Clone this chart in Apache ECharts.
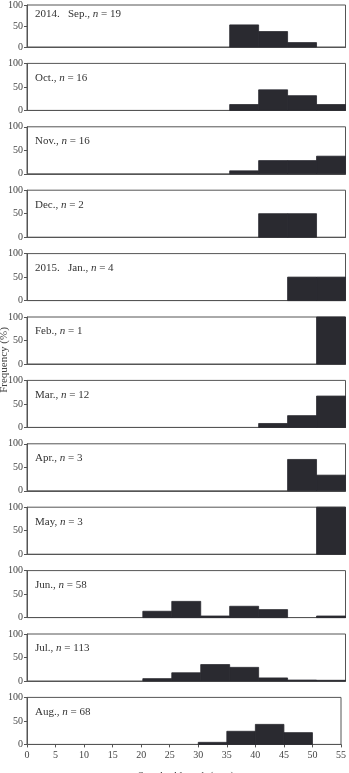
<!DOCTYPE html>
<html>
<head>
<meta charset="utf-8">
<script src="https://cdn.jsdelivr.net/npm/echarts@6/dist/echarts.min.js"></script>
<style>
  html, body { margin: 0; padding: 0; background: #fff; }
  #chart { width: 349px; height: 773px; }
</style>
</head>
<body>
<div id="chart"></div>
<script>
// length bins (mm), lower edges
const binStarts = [0, 5, 10, 15, 20, 25, 30, 35, 40, 45, 50];
const binWidth = 5;
const xTicks = [0, 5, 10, 15, 20, 25, 30, 35, 40, 45, 50, 55];
const yTicks = [0, 50, 100];

// frequency (%) per bin for each month
const sep14 = [0, 0, 0, 0, 0, 0, 0, 52.6, 36.8, 10.5, 0];
const oct14 = [0, 0, 0, 0, 0, 0, 0, 12.5, 43.8, 31.3, 12.5];
const nov14 = [0, 0, 0, 0, 0, 0, 0, 6.3, 28.1, 28.1, 37.5];
const dec14 = [0, 0, 0, 0, 0, 0, 0, 0, 50, 50, 0];
const jan15 = [0, 0, 0, 0, 0, 0, 0, 0, 0, 50, 50];
const feb15 = [0, 0, 0, 0, 0, 0, 0, 0, 0, 0, 100];
const mar15 = [0, 0, 0, 0, 0, 0, 0, 0, 8.3, 25, 66.7];
const apr15 = [0, 0, 0, 0, 0, 0, 0, 0, 0, 66.7, 33.3];
const may15 = [0, 0, 0, 0, 0, 0, 0, 0, 0, 0, 100];
const jun15 = [0, 0, 0, 0, 13.5, 34.5, 3.4, 24.1, 17, 0, 3.4];
const jul15 = [0, 0, 0, 0, 5, 17.5, 35, 29, 6.5, 2, 1.5];
const aug15 = [0, 0, 0, 0, 0, 0, 4.4, 27.9, 42.6, 25, 0];

const panelLabels = [
  '2014.   Sep., {i|n} = 19',
  'Oct., {i|n} = 16',
  'Nov., {i|n} = 16',
  'Dec., {i|n} = 2',
  '2015.   Jan., {i|n} = 4',
  'Feb., {i|n} = 1',
  'Mar., {i|n} = 12',
  'Apr., {i|n} = 3',
  'May, {i|n} = 3',
  'Jun., {i|n} = 58',
  'Jul., {i|n} = 113',
  'Aug., {i|n} = 68'
];
const panelData = [sep14, oct14, nov14, dec14, jan15, feb15, mar15, apr15, may15, jun15, jul15, aug15];

const FONT = '"Liberation Serif", "DejaVu Serif", serif';
const BAR = '#2a2a30';
const chart = echarts.init(document.getElementById('chart'));

const left = 27, width = 318.5, height = 47, step = 63.4, top0 = 0;
const grids = [], xAxes = [], yAxes = [], series = [], titles = [];

panelData.forEach((vals, i) => {
  const top = top0 + i * step;
  const last = i === panelData.length - 1;
  grids.push({
    left: left, top: top, width: width, height: height,
    show: true, borderColor: '#555', borderWidth: 1, backgroundColor: 'transparent'
  });
  xAxes.push({
    gridIndex: i, type: 'value', min: 0, max: 55, interval: 5,
    axisLine: { show: true, onZero: false, lineStyle: { color: '#555', width: 1 } },
    axisTick: { show: last, length: 3, lineStyle: { color: '#555' } },
    axisLabel: { show: last, fontFamily: FONT, fontSize: 10, color: '#444', margin: 6 },
    splitLine: { show: false }
  });
  yAxes.push({
    gridIndex: i, type: 'value', min: 0, max: 100, interval: 50,
    axisLine: { show: true, lineStyle: { color: '#555', width: 1 } },
    axisTick: { show: true, length: 3, lineStyle: { color: '#555' } },
    axisLabel: { fontFamily: FONT, fontSize: 10, color: '#444', margin: 4 },
    splitLine: { show: false }
  });
  series.push({
    type: 'custom',
    xAxisIndex: i, yAxisIndex: i,
    encode: { x: [0, 1], y: 2 },
    data: binStarts.map((b, k) => [b, b + binWidth, vals[k]]).filter(d => d[2] > 0),
    renderItem: function (params, api) {
      const p0 = api.coord([api.value(0), api.value(2)]);
      const p1 = api.coord([api.value(1), 0]);
      return {
        type: 'rect',
        shape: { x: p0[0], y: p0[1], width: p1[0] - p0[0], height: p1[1] - p0[1] },
        style: { fill: BAR, stroke: BAR, lineWidth: 0.8 }
      };
    },
    silent: true
  });
  titles.push({
    text: panelLabels[i],
    left: left + 3, top: top + 4,
    textStyle: {
      fontFamily: FONT, fontSize: 11, fontWeight: 'normal', color: '#333',
      rich: { i: { fontFamily: FONT, fontSize: 11, fontStyle: 'italic', color: '#333' } }
    }
  });
});

chart.setOption({
  animation: false,
  title: titles,
  grid: grids,
  xAxis: xAxes,
  yAxis: yAxes,
  series: series,
  graphic: [
    {
      type: 'text', x: 4, y: 360, rotation: Math.PI / 2,
      style: { text: 'Frequency (%)', font: '11px ' + FONT, fill: '#444', align: 'center', verticalAlign: 'middle' }
    },
    {
      type: 'text', x: 186, y: 771,
      style: { text: 'Standard length (mm)', font: '11px ' + FONT, fill: '#444', align: 'center', verticalAlign: 'top' }
    }
  ]
});
</script>
</body>
</html>
